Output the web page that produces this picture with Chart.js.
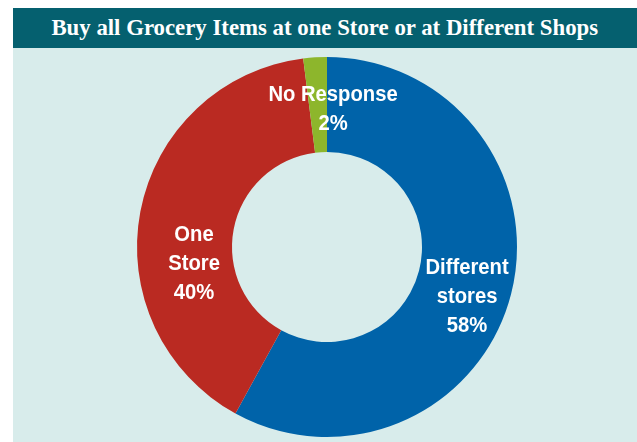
<!DOCTYPE html>
<html>
<head>
<meta charset="utf-8">
<title>Grocery shopping</title>
<script src="https://cdn.jsdelivr.net/npm/chart.js@4.4.1/dist/chart.umd.min.js"></script>
<style>
  body { margin: 0; background: #fff; }
  #panel { position: absolute; left: 13px; top: 8px; width: 624px; height: 434px; }
  #title {
    height: 34px; line-height: 40px; padding-top: 6px; overflow: hidden;
    background: #05606f; color: #fff; text-align: center;
    font: bold 24px "Liberation Serif", "Times New Roman", serif;
  }
  #title span { display: inline-block; transform: scaleX(0.95); transform-origin: 50% 50%; }
  #chart-box { position: relative; height: 394px; background: #d8eceb; }
</style>
</head>
<body>
<div id="panel">
  <div id="title"><span>Buy all Grocery Items at one Store or at Different Shops</span></div>
  <div id="chart-box"><canvas id="donut" width="624" height="394"></canvas></div>
</div>
<script>
const categories = ['Different stores', 'One Store', 'No Response'];
const labelLines = [['Different', 'stores'], ['One', 'Store'], ['No Response']];
const shares = [58, 40, 2];
const sliceColors = ['#0063a9', '#ba2a22', '#8db62c'];

// white text inside each slice, nudged from the arc's middle point
const sliceLabels = {
  id: 'sliceLabels',
  afterDatasetsDraw(chart, args, opts) {
    const ctx = chart.ctx;
    const meta = chart.getDatasetMeta(0);
    ctx.save();
    ctx.fillStyle = '#fff';
    ctx.font = opts.font;
    ctx.textAlign = 'center';
    ctx.textBaseline = 'middle';
    meta.data.forEach((arc, i) => {
      const pos = arc.tooltipPosition();
      const off = opts.offsets[i];
      const lines = labelLines[i].concat(shares[i] + '%');
      const x = pos.x + off.x;
      const y0 = pos.y + off.y - (lines.length - 1) * opts.lineHeight / 2;
      lines.forEach((line, j) => {
        ctx.save();
        ctx.translate(x, y0 + j * opts.lineHeight);
        ctx.scale(opts.squeeze, 1);
        ctx.fillText(line, 0, 0);
        ctx.restore();
      });
    });
    ctx.restore();
  }
};

new Chart(document.getElementById('donut'), {
  type: 'doughnut',
  data: {
    labels: categories,
    datasets: [{
      data: shares,
      backgroundColor: sliceColors,
      borderWidth: 0
    }]
  },
  options: {
    responsive: false,
    animation: false,
    cutout: '50%',
    layout: { padding: { top: 9, bottom: 5, left: 4, right: 0 } },
    plugins: {
      legend: { display: false },
      tooltip: { enabled: false },
      sliceLabels: {
        font: 'bold 22px "Liberation Sans", Arial, sans-serif',
        squeeze: 0.92,
        lineHeight: 29,
        offsets: [{ x: 2, y: 14 }, { x: 7, y: 44 }, { x: 15, y: 5 }]
      }
    }
  },
  plugins: [sliceLabels]
});
</script>
</body>
</html>
